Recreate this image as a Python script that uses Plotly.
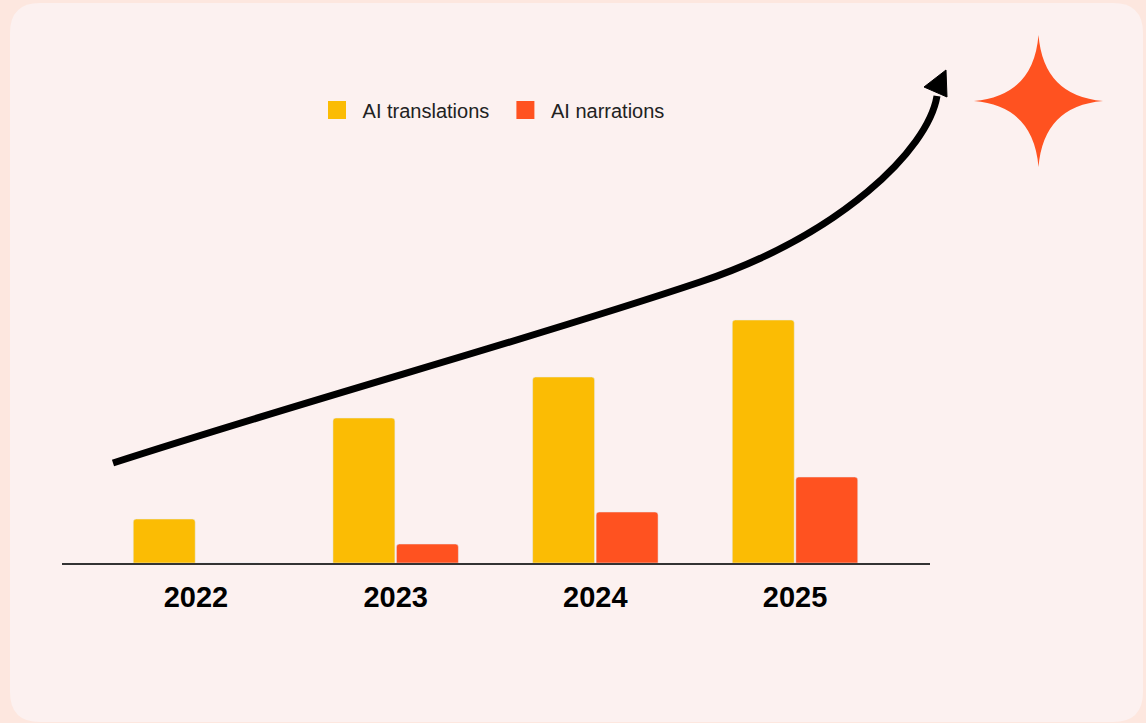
import plotly.graph_objects as go

# Data
years = ["2022", "2023", "2024", "2025"]
ai_translations = [44, 145, 186, 243]
ai_narrations = [0, 19, 51, 86]

YELLOW = "#FBBC04"
ORANGE = "#FF5220"
CARD = "#FCF1F0"
OUTER = "#FDE7DF"

W, H = 1146, 723
L, R, T, B = 62, 216, 60, 160
PW, PH = W - L - R, H - T - B
NBSP = "\u00a0"


def px(x, y):
    """Pixel position -> paper coordinates."""
    return (x - L) / PW, (H - B - y) / PH


def path(cmds):
    out = []
    for c in cmds:
        if isinstance(c, str):
            out.append(c)
        else:
            xp, yp = px(*c)
            out.append(f"{xp:.5f},{yp:.5f}")
    return " ".join(out)


def rounded_rect(x0, y0, x1, y1, r):
    return path([
        "M", (x0 + r, y0), "L", (x1 - r, y0), "Q", (x1, y0), (x1, y0 + r),
        "L", (x1, y1 - r), "Q", (x1, y1), (x1 - r, y1),
        "L", (x0 + r, y1), "Q", (x0, y1), (x0, y1 - r),
        "L", (x0, y0 + r), "Q", (x0, y0), (x0 + r, y0), "Z",
    ])


def sparkle(cx, cy, rx, ry, a):
    return path([
        "M", (cx, cy - ry),
        "Q", (cx + a, cy - a), (cx + rx, cy),
        "Q", (cx + a, cy + a), (cx, cy + ry),
        "Q", (cx - a, cy + a), (cx - rx, cy),
        "Q", (cx - a, cy - a), (cx, cy - ry), "Z",
    ])


xpos = list(range(len(years)))

fig = go.Figure()
fig.add_trace(go.Bar(
    x=xpos, y=ai_translations, name="AI translations",
    marker=dict(color=YELLOW, cornerradius=3), showlegend=False,
))
fig.add_trace(go.Bar(
    x=xpos, y=ai_narrations, name="AI narrations",
    marker=dict(color=ORANGE, cornerradius=3), showlegend=False,
))
# legend entries with larger square swatches
legend_items = [
    (NBSP + "AI translations" + NBSP * 2, YELLOW),
    (NBSP + "AI narrations", ORANGE),
]
for name, col in legend_items:
    fig.add_trace(go.Scatter(
        x=[None], y=[None], mode="markers", name=name,
        marker=dict(symbol="square", size=16, color=col, line=dict(color=col, width=2)),
    ))

shapes = [
    # rounded card
    dict(type="path", xref="paper", yref="paper", layer="below",
         path=rounded_rect(10, 3, 1143, 722, 30), fillcolor=CARD, line=dict(width=0)),
    # growth arrow shaft
    dict(type="path", xref="paper", yref="paper", layer="above",
         path=path(["M", (113, 463), "C", (330, 393), (520, 342.5), (700, 282),
                    "C", (840, 235), (928, 150), (937, 96)]),
         line=dict(color="black", width=7)),
    # arrow head
    dict(type="path", xref="paper", yref="paper", layer="above",
         path=path(["M", (946, 70), "L", (924, 87), "L", (947, 97), "Z"]),
         fillcolor="black", line=dict(color="black", width=1)),
    # sparkle
    dict(type="path", xref="paper", yref="paper", layer="above",
         path=sparkle(1038.5, 101, 64.5, 66, 5), fillcolor=ORANGE, line=dict(width=0)),
]

fig.update_layout(
    width=W, height=H,
    margin=dict(l=L, r=R, t=T, b=B),
    paper_bgcolor=OUTER,
    plot_bgcolor="rgba(0,0,0,0)",
    barmode="group",
    bargap=0.364,
    bargroupgap=0.024,
    font=dict(family="Liberation Sans, Arial, sans-serif"),
    showlegend=True,
    legend=dict(
        orientation="h", x=(317 - L) / PW, xanchor="left",
        y=(H - B - 110) / PH, yanchor="middle",
        bgcolor="rgba(0,0,0,0)",
        font=dict(size=20, color="#222222"),
    ),
    xaxis=dict(
        range=[-0.671, 3.676], tickvals=xpos, ticktext=years,
        showgrid=False, zeroline=False, showline=True, linecolor="#333333", linewidth=2,
        ticks="", ticklabelstandoff=7,
        tickfont=dict(size=29, color="black", family="Liberation Sans, Arial, sans-serif", weight="bold"),
        fixedrange=True,
    ),
    yaxis=dict(range=[0, PH], visible=False, fixedrange=True),
    shapes=shapes,
)

fig.write_html("out.html")
